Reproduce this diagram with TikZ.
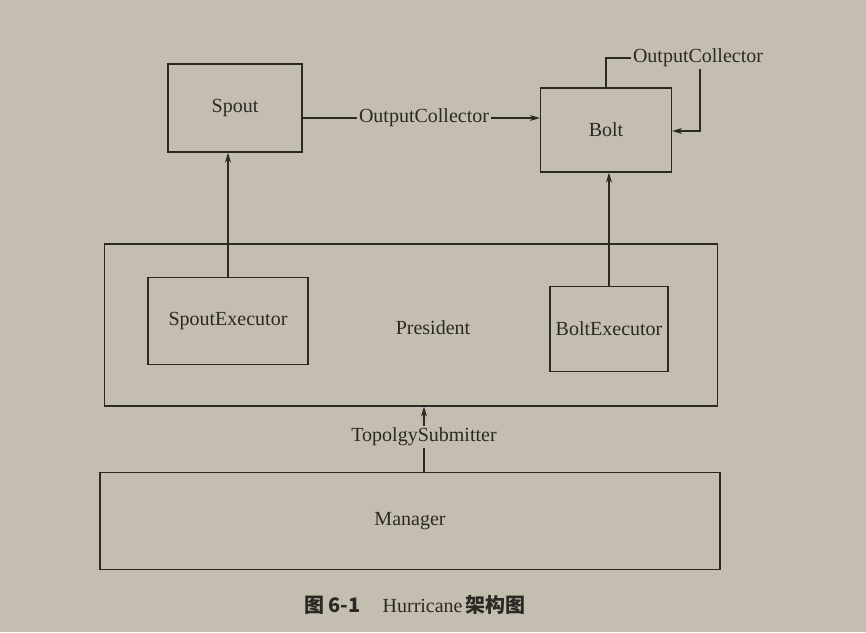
\documentclass[tikz,border=0pt]{standalone}
\usepackage{fontspec}
\setmainfont{Liberation Serif}
\newfontfamily\cjk{Noto Sans CJK SC}
\usetikzlibrary{arrows.meta}
\definecolor{paper}{RGB}{196,190,176}
\definecolor{ink}{RGB}{44,40,36}
\tikzset{
  box/.style={draw=ink, line width=1.3pt, rectangle, inner sep=0pt, font=\fontsize{20}{22}\selectfont, text=ink},
  lbl/.style={inner sep=2pt, font=\fontsize{20}{22}\selectfont, text=ink},
  conn/.style={draw=ink, line width=1.3pt},
  arr/.style={conn, -{Stealth[length=10pt,width=6pt]}}
}
\begin{document}
\begin{tikzpicture}[x=1pt,y=-1pt]
\fill[paper] (0,0) rectangle (866,632);
\useasboundingbox (0,0) rectangle (866,632);
\node[box, minimum width=134pt, minimum height=88pt] (sp) at (235,108) {Spout};
\node[box, minimum width=131pt, minimum height=84pt] (bolt) at (606,130) {Bolt};
\node[box, minimum width=613pt, minimum height=162pt] (pres) at (411,325) {};
\node[lbl] (preslbl) at (433,328) {President};
\node[box, minimum width=160pt, minimum height=87pt] (se) at (228,321) {SpoutExecutor};
\node[box, minimum width=118pt, minimum height=85pt] (be) at (609,329) {BoltExecutor};
\node[box, minimum width=620pt, minimum height=97pt] (mgr) at (410,521) {Manager};
\node[lbl] (oc1) at (424,118) {OutputCollector};
\node[lbl] (oc2) at (698,58) {OutputCollector};
\node[lbl] (ts) at (424,437) {TopolgySubmitter};
\coordinate (lp) at (700,131);
\draw[arr] (se.north) -- (sp.south -| se.north);
\draw[arr] (be.north) -- (bolt.south -| be.north);
\draw[conn] (sp.east |- oc1) -- (oc1.west);
\draw[arr] (oc1.east) -- (bolt.west |- oc1);
\draw[conn] (bolt.north) |- (oc2.west);
\draw[arr] (oc2.south -| lp) -- (lp) -- (bolt.east |- lp);
\draw[conn] (mgr.north -| ts) -- (ts.south);
\draw[arr] (ts.north) -- (pres.south -| ts);
\node[inner sep=0pt, text=ink, font=\fontsize{20}{22}\selectfont] (cap) at (415,605) {{\cjk\bfseries 图 6-1}\hspace{1.1em}Hurricane\,{\cjk\bfseries 架构图}};
\end{tikzpicture}
\end{document}
